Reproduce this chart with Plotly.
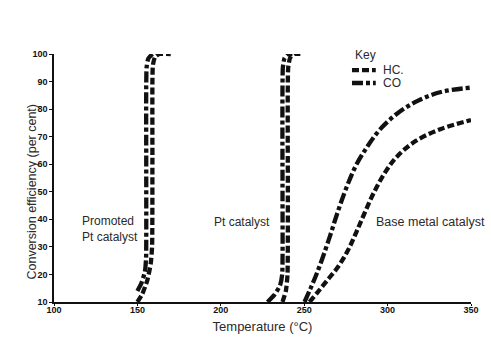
import plotly.graph_objects as go

# Promoted Pt catalyst
prom_hc_T = [150, 153, 156, 158, 158.8, 159, 159, 159.3, 160.5, 163, 170]
prom_hc_v = [10, 13, 18, 24, 30, 60, 90, 96, 98.8, 100, 100]
prom_co_T = [150, 152.5, 154.5, 155.2, 155.3, 155.5, 156.5, 159]
prom_co_v = [14, 17, 21, 26, 60, 95, 98.3, 100]

# Pt catalyst
pt_co_T = [228, 232, 235.5, 236.8, 237.0, 237.2, 238.2, 240.5, 243]
pt_co_v = [10, 12.5, 16, 20, 50, 95, 98.5, 100, 100]
pt_hc_T = [237, 239, 240, 240.2, 240.4, 241.5, 243.8, 248]
pt_hc_v = [10, 14, 20, 50, 95, 98.5, 100, 100]

# Base metal catalyst
bm_co_T = [250.2, 253.5, 257, 261, 265.5, 270, 275, 281, 288, 296, 306, 318, 332, 350]
bm_co_v = [10, 14.5, 19.5, 26, 34, 42.5, 51, 59.5, 66.5, 73, 78.5, 83, 86.2, 87.8]
bm_hc_T = [253.2, 258, 264, 270, 276, 281, 286, 292, 299, 306, 317, 332, 350]
bm_hc_v = [10, 13.5, 18, 22.5, 28.5, 35, 42, 50, 57.5, 63, 68.5, 72.8, 76]

x_ticks = [100, 150, 200, 250, 300, 350]
y_ticks = [10, 20, 30, 40, 50, 60, 70, 80, 90, 100]

legend_labels = ["HC.", "CO"]

HC_DASH = "7px,3px"
CO_DASH = "11px,3px,4px,3px"
INK = "#111111"
LW = 4.3

fig = go.Figure()

def add(T, v, dash, smooth):
    fig.add_trace(go.Scatter(
        x=T, y=v, mode="lines", showlegend=False,
        line=dict(color=INK, width=LW, dash=dash, shape="spline", smoothing=smooth),
        hoverinfo="skip"))

add(prom_hc_T, prom_hc_v, HC_DASH, 0.5)
add(prom_co_T, prom_co_v, CO_DASH, 0.5)
add(pt_hc_T, pt_hc_v, HC_DASH, 0.5)
add(pt_co_T, pt_co_v, CO_DASH, 0.5)
add(bm_hc_T, bm_hc_v, HC_DASH, 1.0)
add(bm_co_T, bm_co_v, CO_DASH, 1.0)

FAM = "Liberation Sans, Arial, sans-serif"
txt = dict(family=FAM, size=12, color="#2a2a2a")
tickf = dict(family="Liberation Sans Narrow, Liberation Sans, Arial", size=9, color="#111", weight="bold")

fig.add_annotation(x=115.5, y=36.5, text="Promoted<br>Pt catalyst", showarrow=False,
                   xanchor="left", yanchor="middle", align="left", font=txt)
fig.add_annotation(x=194.5, y=39, text="Pt catalyst", showarrow=False,
                   xanchor="left", yanchor="middle", font=txt)
fig.add_annotation(x=292, y=39, text="Base metal catalyst", showarrow=False,
                   xanchor="left", yanchor="middle", font=dict(family=FAM, size=12.5, color="#2a2a2a"))

# Key (manual legend)
fig.add_annotation(xref="paper", yref="paper", x=0.716, y=0.996, text="Key", showarrow=False,
                   xanchor="left", yanchor="middle", font=txt)
for lbl, dash, yy in zip(legend_labels, [HC_DASH, CO_DASH], [0.935, 0.883]):
    fig.add_shape(type="line", xref="paper", yref="paper", x0=0.7146, x1=0.7716, y0=yy, y1=yy,
                  line=dict(color=INK, width=LW, dash=dash))
    fig.add_annotation(xref="paper", yref="paper", x=0.783, y=yy, text=lbl, showarrow=False,
                       xanchor="left", yanchor="middle", font=txt)

# Y axis title
fig.add_annotation(xref="paper", yref="paper", x=-0.053, y=0.445, text="Conversion efficiency (per cent)",
                   textangle=-90, showarrow=False, xanchor="center", yanchor="middle",
                   font=dict(family=FAM, size=12.5, color="#2a2a2a"))

fig.update_layout(
    width=491, height=350,
    margin=dict(l=54, r=16, t=54, b=48),
    paper_bgcolor="white", plot_bgcolor="white",
    font=txt,
    showlegend=False,
    xaxis=dict(range=[100, 350], tickvals=x_ticks, showgrid=False, zeroline=False,
               showline=True, linecolor="#111", linewidth=1.5, ticks="outside", ticklen=2,
               tickcolor="#111", tickfont=tickf, ticklabelstandoff=-4,
               title=dict(text="Temperature (°C)", font=dict(family=FAM, size=13, color="#2a2a2a"), standoff=8)),
    yaxis=dict(range=[10, 100], tickvals=y_ticks, showgrid=False, zeroline=False,
               showline=True, linecolor="#111", linewidth=1.5, ticks="outside", ticklen=3,
               tickcolor="#111", tickfont=tickf),
)

fig.write_html("out.html")
